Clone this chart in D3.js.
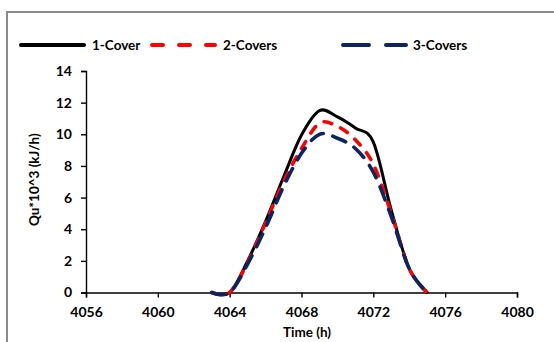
<!DOCTYPE html>
<html>
<head>
<meta charset="utf-8">
<script src="https://cdn.jsdelivr.net/npm/d3@7"></script>
<style>
  html, body { margin: 0; padding: 0; background: #fff; }
  svg { display: block; font-family: Lato, "Open Sans", sans-serif; font-weight: bold; }
</style>
</head>
<body>
<svg id="chart" width="554" height="342"></svg>
<script>
// Hourly useful heat gain of the collector for 1, 2 and 3 glass covers
const hours   = [4063, 4064, 4065, 4066, 4067, 4068, 4069, 4070, 4071, 4072, 4073, 4074, 4075];
const cover1  = [0, 0, 2.0, 4.5, 7.3, 9.95, 11.5, 11.1, 10.4, 9.5, 5.2, 1.5, 0];
const cover2  = [0, 0, 1.9, 4.4, 7.0, 9.1, 10.7, 10.5, 9.65, 8.1, 5.0, 1.5, 0];
const cover3  = [0, 0, 1.8, 4.1, 6.7, 8.8, 10.0, 9.75, 9.1, 7.6, 4.8, 1.5, 0];
const seriesNames = ["1-Cover", "2-Covers", "3-Covers"];
const xTicks = [4056, 4060, 4064, 4068, 4072, 4076, 4080];
const yTicks = [0, 2, 4, 6, 8, 10, 12, 14];

const svg = d3.select("#chart");

// chart frame
svg.append("rect")
  .attr("x", 7).attr("y", 12)
  .attr("width", 620).attr("height", 420)
  .attr("fill", "none").attr("stroke", "#8a8a8a").attr("stroke-width", 2);

const plot = { left: 86, right: 517, top: 71, bottom: 292.5 };
const x = d3.scaleLinear().domain([4056, 4080]).range([plot.left, plot.right]);
const y = d3.scaleLinear().domain([0, 14]).range([plot.bottom, plot.top]);

const styles = [
  { color: "#000000", width: 3,   dash: null,   legendDash: null },
  { color: "#ff0000", width: 3.6, dash: "8,10", legendDash: "11,16" },
  { color: "#0c2461", width: 3.6, dash: "14,10", legendDash: "26,17" }
];

// axes
const xAxis = svg.append("g")
  .attr("transform", `translate(0,${plot.bottom})`)
  .call(d3.axisBottom(x).tickValues(xTicks).tickFormat(d3.format("d")).tickSize(5).tickPadding(10));
const yAxis = svg.append("g")
  .attr("transform", `translate(${plot.left},0)`)
  .call(d3.axisLeft(y).tickValues(yTicks).tickSize(5).tickPadding(9));

[xAxis, yAxis].forEach(g => {
  g.select(".domain").attr("stroke", "#000").attr("stroke-width", 1.4);
  g.selectAll(".tick line").attr("stroke", "#000").attr("stroke-width", 1.4);
  g.selectAll(".tick text")
    .attr("fill", "#000")
    .style("font-family", "Lato, 'Open Sans', sans-serif")
    .style("font-weight", "bold")
    .style("font-size", "14px");
});

// axis titles
svg.append("text")
  .attr("x", 307).attr("y", 337)
  .attr("text-anchor", "middle")
  .style("font-size", "13.5px")
  .text("Time (h)");
svg.append("text")
  .attr("transform", `translate(39,${(plot.top + plot.bottom) / 2 - 2}) rotate(-90)`)
  .attr("text-anchor", "middle")
  .style("font-size", "13.5px")
  .text("Qu*10^3 (kJ/h)");

// series lines
const allSeries = [cover1, cover2, cover3];
const line = d3.line()
  .x((d, i) => x(hours[i]))
  .y(d => y(d))
  .curve(d3.curveCatmullRom.alpha(0));

allSeries.forEach((vals, k) => {
  const s = styles[k];
  svg.append("path")
    .datum(vals)
    .attr("d", line)
    .attr("fill", "none")
    .attr("stroke", s.color)
    .attr("stroke-width", s.width)
    .attr("stroke-linecap", "round")
    .attr("stroke-linejoin", "round")
    .attr("stroke-dasharray", s.dash);
});

// legend
const legendItems = [
  { x1: 21, x2: 84, tx: 92 },
  { x1: 152, x2: 215, tx: 223 },
  { x1: 343, x2: 406, tx: 413 }
];
legendItems.forEach((it, k) => {
  const s = styles[k];
  svg.append("line")
    .attr("x1", it.x1).attr("x2", it.x2)
    .attr("y1", 45).attr("y2", 45)
    .attr("stroke", s.color)
    .attr("stroke-width", 4)
    .attr("stroke-linecap", "round")
    .attr("stroke-dasharray", s.legendDash);
  svg.append("text")
    .attr("x", it.tx).attr("y", 50)
    .style("font-size", "13.5px")
    .text(seriesNames[k]);
});
</script>
</body>
</html>
